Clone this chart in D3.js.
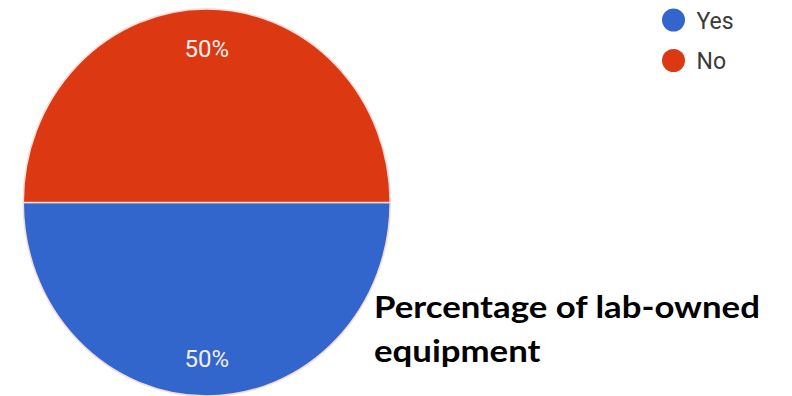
<!DOCTYPE html>
<html>
<head>
<meta charset="utf-8">
<script src="https://cdn.jsdelivr.net/npm/d3@7"></script>
<style>
  html, body { margin: 0; padding: 0; background: #ffffff; }
  svg { display: block; }
</style>
</head>
<body>
<svg id="chart" width="792" height="396"></svg>
<script>
// ---- data ----
const categories = ["Yes", "No"];
const values = [50, 50];
const colors = ["#3366cc", "#dc3912"];
const titleLines = ["Percentage of lab-owned", "equipment"];

// ---- layout ----
const W = 792, H = 396;
const cx = 206.7, cy = 202.5, radius = 183.5, stretchY = 1.055;

const svg = d3.select("#chart");
svg.append("rect").attr("width", W).attr("height", H).attr("fill", "#fff");

const data = categories.map((c, i) => ({ cat: c, value: values[i], color: colors[i] }));
const total = d3.sum(values);

const pie = d3.pie().value(d => d.value).sort(null)
  .startAngle(Math.PI / 2).endAngle(Math.PI / 2 + 2 * Math.PI);
const arcs = pie(data);
const arc = d3.arc().innerRadius(0).outerRadius(radius);

const g = svg.append("g").attr("transform", `translate(${cx},${cy}) scale(1,${stretchY})`);
g.selectAll("path").data(arcs).join("path")
  .attr("d", arc)
  .attr("fill", d => d.data.color)
  .attr("stroke", "#f4dcd8")
  .attr("stroke-width", 1.6)
  .attr("stroke-linejoin", "round");

// percentage labels
const labelArc = d3.arc().innerRadius(radius * 0.80).outerRadius(radius * 0.80);
svg.append("g").selectAll("text").data(arcs).join("text")
  .attr("x", d => cx + labelArc.centroid(d)[0])
  .attr("y", d => cy + labelArc.centroid(d)[1] * stretchY + 9.5)
  .attr("text-anchor", "middle")
  .attr("font-family", "Roboto, 'Liberation Sans', Arial, sans-serif")
  .attr("font-size", 24)
  .attr("fill", "#f3eeee")
  .text(d => Math.round(d.data.value / total * 100) + "%");

// legend
const legend = svg.append("g").attr("transform", "translate(673.5,20)");
const items = legend.selectAll("g").data(data).join("g")
  .attr("transform", (d, i) => `translate(0,${i * 40.5})`);
items.append("circle").attr("r", 11.5).attr("fill", d => d.color);
items.append("text")
  .attr("x", 23).attr("y", 8.5)
  .attr("font-family", "Roboto, 'Liberation Sans', Arial, sans-serif")
  .attr("font-size", 23)
  .attr("fill", "#3a3a3a")
  .text(d => d.cat);

// title (scaled horizontally so the first line spans the measured width)
const tg = svg.append("g");
const title = tg.append("text")
  .attr("font-family", "Lato, 'Open Sans', sans-serif")
  .attr("font-weight", "bold")
  .attr("font-size", 31)
  .attr("fill", "#000");
const spans = title.selectAll("tspan").data(titleLines).join("tspan")
  .attr("x", 0)
  .attr("y", (d, i) => 317.7 + i * 44.6)
  .text(d => d);
function fitTitle() {
  const w1 = spans.nodes()[0].getComputedTextLength();
  const ratio = 386 / w1;
  tg.attr("transform", `translate(374,0) scale(${ratio},1)`);
}
fitTitle();
if (document.fonts && document.fonts.ready) document.fonts.ready.then(fitTitle);
</script>
</body>
</html>
